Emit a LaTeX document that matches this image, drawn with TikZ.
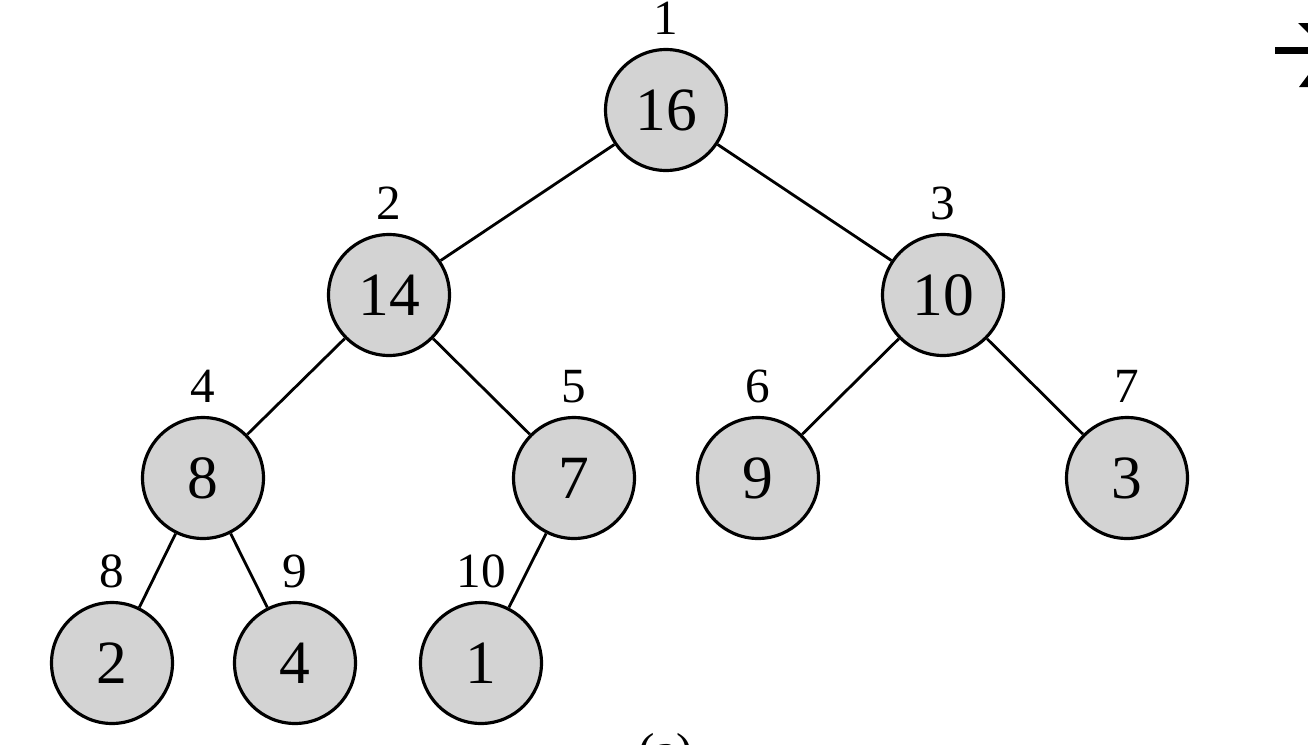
\documentclass[tikz,border=0pt]{standalone}
\usepackage{fontspec}
\setmainfont{Liberation Serif}
\definecolor{heapgray}{RGB}{211,211,211}
\newcommand{\keyfont}{\fontsize{35}{40}\selectfont}
\newcommand{\idxfont}{\fontsize{28}{32}\selectfont}
\tikzset{
  heapnode/.style={circle, draw, line width=1.8pt, fill=heapgray,
    minimum size=2.42cm, inner sep=0pt, font=\keyfont},
  heapedge/.style={line width=1.6pt},
  every label/.style={font=\idxfont, inner sep=0pt},
  label distance=0.26cm
}
\begin{document}
\begin{tikzpicture}[x=0.02cm, y=-0.02cm]
    \useasboundingbox (0, 0) rectangle (1308, 744);
\node[heapnode, label=above:1] (n1) at (666, 110) {16};
\node[heapnode, label=above:2] (n2) at (389, 295) {14};
\node[heapnode, label=above:3] (n3) at (943, 295) {10};
\node[heapnode, label=above:4] (n4) at (203, 478) {8};
\node[heapnode, label=above:5] (n5) at (574, 478) {7};
\node[heapnode, label=above:6] (n6) at (758, 478) {9};
\node[heapnode, label=above:7] (n7) at (1127, 478) {3};
\node[heapnode, label=above:8] (n8) at (112, 663) {2};
\node[heapnode, label=above:9] (n9) at (295, 663) {4};
\node[heapnode, label=above:10] (n10) at (481, 663) {1};
\draw[heapedge] (n1) -- (n2);
\draw[heapedge] (n1) -- (n3);
\draw[heapedge] (n2) -- (n4);
\draw[heapedge] (n2) -- (n5);
\draw[heapedge] (n3) -- (n6);
\draw[heapedge] (n3) -- (n7);
\draw[heapedge] (n4) -- (n8);
\draw[heapedge] (n4) -- (n9);
\draw[heapedge] (n5) -- (n10);
    % caption, cut off by the page edge
    \node[font=\idxfont, anchor=north, inner sep=0pt] (cap) at (666, 733) {(a)};
    % arrow towards the next picture, cut off at the right
    \coordinate (arrtail) at (1275, 50.5);
    \coordinate (arrtip) at (1340, 50.5);
    \draw[line width=4pt] (arrtail) -- (arrtip);
    \fill (1298, 23) -- (1316, 23) -- (1344, 51) -- (1326, 51) -- cycle;
    \fill (1299, 87) -- (1317, 87) -- (1344, 51) -- (1326, 51) -- cycle;
    \end{tikzpicture}
\end{document}
